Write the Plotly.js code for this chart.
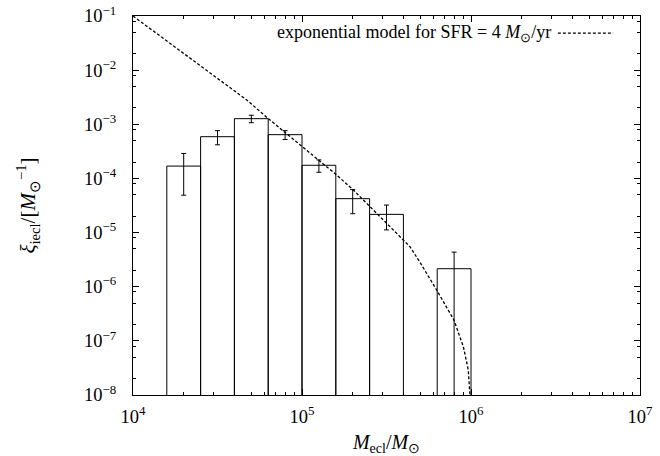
<!DOCTYPE html>
<html>
<head>
<meta charset="utf-8">
<script src="https://cdn.plot.ly/plotly-3.0.1.min.js"></script>
<style>html,body{margin:0;padding:0;background:#fff;}#chart{width:660px;height:456px;}</style>
</head>
<body>
<div id="chart"></div>
<script>
// Histogram bins (log10 of bin edges, M_ecl in M_sun)
var binLoLog = [4.2, 4.4, 4.6, 4.8, 5.0, 5.2, 5.4, 5.8];
var binHiLog = [4.4, 4.6, 4.8, 5.0, 5.2, 5.4, 5.6, 6.0];
// bin heights xi_iecl [1/M_sun] and symmetric errors
var binValues = [1.69e-4, 5.9e-4, 1.27e-3, 6.43e-4, 1.75e-4, 4.23e-5, 2.17e-5, 2.15e-6];
var binErrors = [1.20e-4, 1.72e-4, 2.0e-4, 1.20e-4, 4.5e-5, 2.0e-5, 1.05e-5, 2.2e-6];

// exponential model curve for SFR = 4 Msun/yr (log10 values)
var modelLogM  = [4.000, 4.298, 4.673, 4.791, 4.899, 4.998, 5.107, 5.205, 5.304, 5.402, 5.501, 5.590, 5.639, 5.700, 5.797, 5.899, 5.955, 5.984, 5.998];
var modelLogXi = [-1.000, -1.681, -2.551, -2.870, -3.150, -3.414, -3.691, -3.937, -4.214, -4.522, -4.829, -5.110, -5.261, -5.560, -6.061, -6.615, -7.108, -7.540, -8.200];

// axis ticks and labels
var xTickVals = [1e4, 1e5, 1e6, 1e7];
var xTickText = ['10<sup>4</sup>', '10<sup>5</sup>', '10<sup>6</sup>', '10<sup>7</sup>'];
var yTickVals = [1e-8, 1e-7, 1e-6, 1e-5, 1e-4, 1e-3, 1e-2, 1e-1];
var yTickText = ['10<sup>−8</sup>', '10<sup>−7</sup>', '10<sup>−6</sup>', '10<sup>−5</sup>', '10<sup>−4</sup>', '10<sup>−3</sup>', '10<sup>−2</sup>', '10<sup>−1</sup>'];
var yMinorMantissas = [2, 5, 8];

var legendText = 'exponential model for SFR = 4 <i>M</i><sub>⊙</sub>/yr';

// build outline rectangles of the histogram bars
var floorVal = 1e-9;
var bx = [], by = [];
for (var i = 0; i < binValues.length; i++) {
  var lo = Math.pow(10, binLoLog[i]), hi = Math.pow(10, binHiLog[i]);
  bx.push(lo, lo, hi, hi, lo, null);
  by.push(floorVal, binValues[i], binValues[i], floorVal, floorVal, null);
}
var centers = binLoLog.map(function(l, i){ return Math.pow(10, (l + binHiLog[i]) / 2); });

var yMinor = [];
yTickVals.forEach(function(d){ yMinorMantissas.forEach(function(m){ yMinor.push(m * d / 10); }); });

var serif = 'Liberation Serif, Times New Roman, serif';

var traces = [
  {
    x: bx, y: by, type: 'scatter', mode: 'lines', fill: 'toself',
    fillcolor: '#ffffff', line: {color: '#000', width: 1}, hoverinfo: 'skip', showlegend: false
  },
  {
    x: centers, y: binValues, type: 'scatter', mode: 'markers',
    marker: {size: 1, color: 'rgba(0,0,0,0)'},
    error_y: {type: 'data', array: binErrors, visible: true, color: '#000', thickness: 1, width: 2.5},
    showlegend: false
  },
  {
    x: modelLogM.map(function(v){ return Math.pow(10, v); }),
    y: modelLogXi.map(function(v){ return Math.pow(10, v); }),
    type: 'scatter', mode: 'lines', name: 'exponential model for SFR = 4 M⊙/yr',
    line: {color: '#000', width: 1.3, dash: '3px,2px'}, showlegend: false
  }
];

var layout = {
  width: 660, height: 456,
  margin: {l: 133, r: 20, t: 16, b: 61},
  paper_bgcolor: '#fff', plot_bgcolor: '#fff',
  font: {family: serif, color: '#000', size: 18},
  showlegend: false,
  xaxis: {
    type: 'log', range: [4, 7], tickmode: 'array', tickvals: xTickVals, ticktext: xTickText,
    showline: true, mirror: 'ticks', linecolor: '#000', linewidth: 1,
    ticks: 'inside', ticklen: 6, tickcolor: '#000', showgrid: false, zeroline: false,
    tickfont: {family: serif, size: 18.5},
    ticklabelstandoff: 5,
    minor: {ticks: 'inside', ticklen: 3, dtick: 'D1', tickcolor: '#000', showgrid: false},
    title: {text: '<i>M</i><sub>ecl</sub>/<i>M</i><sub>⊙</sub>', font: {family: serif, size: 20}, standoff: 16}
  },
  yaxis: {
    type: 'log', range: [-8, -1], tickmode: 'array', tickvals: yTickVals, ticktext: yTickText,
    showline: true, mirror: 'ticks', linecolor: '#000', linewidth: 1,
    ticks: 'inside', ticklen: 6, tickcolor: '#000', showgrid: false, zeroline: false,
    tickfont: {family: serif, size: 18.5},
    ticklabelstandoff: 12,
    minor: {ticks: 'inside', ticklen: 3, tickmode: 'array', tickvals: yMinor, tickcolor: '#000', showgrid: false},
    title: {text: '<i>ξ</i><sub>iecl</sub>/[<i>M</i><sub>⊙</sub><sup>−1</sup>]', font: {family: serif, size: 21}, standoff: 42}
  },
  annotations: [{
    xref: 'paper', yref: 'paper', x: 0.828, y: 0.955, xanchor: 'right', yanchor: 'middle',
    text: legendText, showarrow: false, font: {family: serif, size: 18, color: '#000'}
  }],
  shapes: [{
    type: 'line', xref: 'paper', yref: 'paper', x0: 0.838, x1: 0.947, y0: 0.955, y1: 0.955,
    line: {color: '#000', width: 1.3, dash: '3px,2px'}
  }]
};

Plotly.newPlot('chart', traces, layout, {staticPlot: true, displayModeBar: false});
</script>
</body>
</html>
